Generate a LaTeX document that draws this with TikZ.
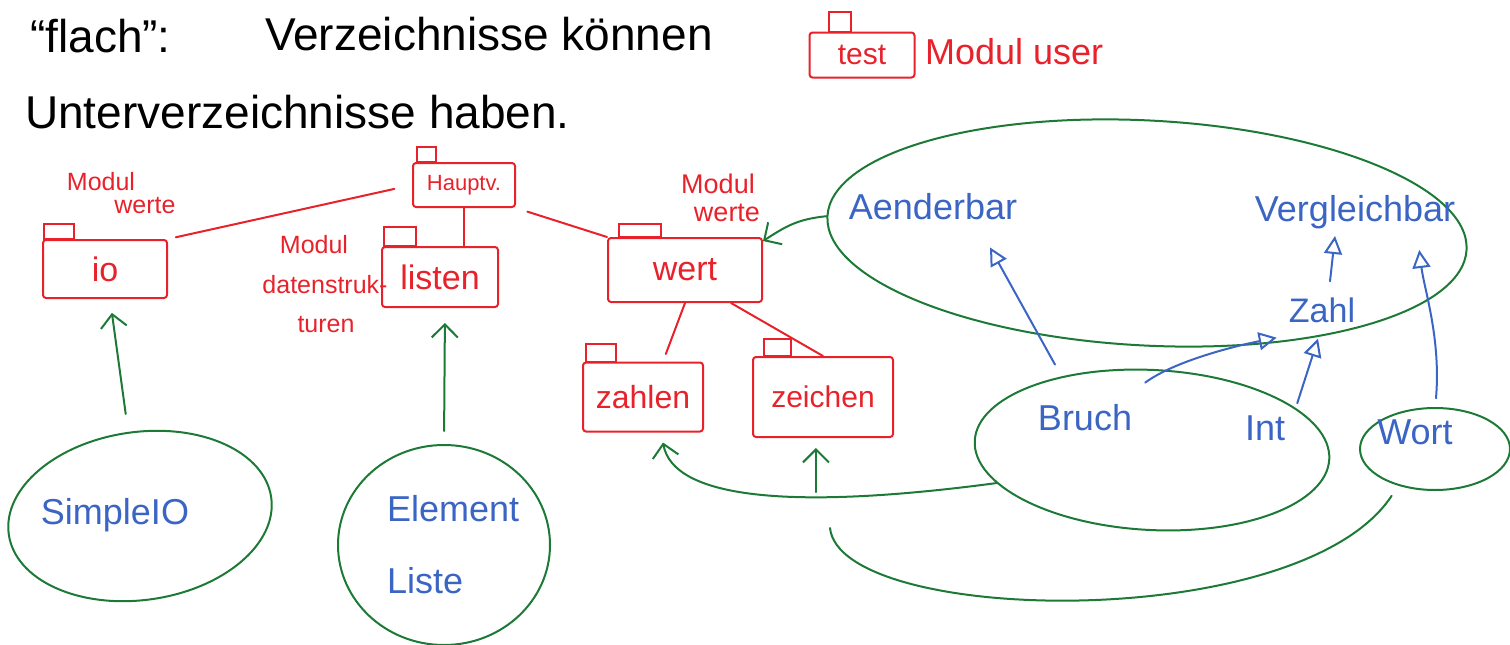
\documentclass[tikz,border=0pt]{standalone}
\usepackage{fontspec}
\setmainfont{Liberation Sans}
\usetikzlibrary{arrows.meta, positioning, shapes.geometric}
\definecolor{pkgred}{HTML}{E8222B}
\definecolor{blobgreen}{HTML}{1C7A36}
\definecolor{clsblue}{HTML}{3A65C4}

\begin{document}
\begin{tikzpicture}[
  x=1pt, y=-1pt,
  pkg/.style={draw=pkgred, line width=2pt, rounded corners=3pt, inner sep=0pt, text=pkgred, font=\fontsize{34}{36}\selectfont},
  tab/.style={draw=pkgred, line width=2pt},
  pline/.style={draw=pkgred, line width=2pt, line cap=round},
  note/.style={text=pkgred, inner sep=0pt, font=\fontsize{25}{27}\selectfont},
  cls/.style={text=clsblue, inner sep=2pt, font=\fontsize{36}{40}\selectfont},
  blob/.style={ellipse, draw=blobgreen, line width=2pt, inner sep=0pt},
  dep/.style={draw=blobgreen, line width=2pt, line cap=round, -{Straight Barb[length=13pt, width=26pt]}},
  gline/.style={draw=blobgreen, line width=2pt, line cap=round},
  inh/.style={draw=clsblue, line width=2pt, line cap=round, -{Triangle[open, length=18pt, width=18pt]}},
  heading/.style={anchor=base west, inner sep=0pt, font=\fontsize{46}{50}\selectfont}
]
\useasboundingbox (0,0) rectangle (1510,645);

% title
\node[heading] (ttlflach) at (30,52) {“flach”:};
\node[heading] (ttlverz) at (265,50) {Verzeichnisse können};
\node[heading] (ttlunter) at (25,128) {Unterverzeichnisse haben.};

% packages
\node[pkg, minimum width=105pt, minimum height=45pt, font=\fontsize{30}{32}\selectfont] (ptest) at (862,55) {test};
\node[note, font=\fontsize{36}{38}\selectfont, anchor=west] (lbluser) at (925,52) {Modul user};
\node[pkg, minimum width=102pt, minimum height=44pt, font=\fontsize{22}{24}\selectfont] (phaupt) at (464,185) {Hauptv.};
\node[pkg, minimum width=124pt, minimum height=58pt] (pio) at (105,269) {io};
\node[pkg, minimum width=116pt, minimum height=60pt] (plisten) at (440,277) {listen};
\node[pkg, minimum width=154pt, minimum height=64pt] (pwert) at (685,270) {wert};
\node[pkg, minimum width=120pt, minimum height=69pt, font=\fontsize{32}{34}\selectfont] (pzahlen) at (643,397) {zahlen};
\node[pkg, minimum width=140pt, minimum height=80pt, font=\fontsize{30}{32}\selectfont] (pzeichen) at (823,397) {zeichen};
\foreach \p/\dx/\w/\h in {ptest/20/22/20, phaupt/5/19/15, pio/2/30/15, plisten/3/32/19, pwert/12/42/13, pzahlen/4/30/18, pzeichen/12/27/17}
  \draw[tab] ([xshift=\dx]\p.north west) rectangle ++(\w,-\h);

\draw[pline, shorten <=8pt, shorten >=18pt] (pio.north east) -- (phaupt.west);
\draw[pline] (phaupt.south) -- (phaupt.south |- plisten.north);
\draw[pline, shorten <=12pt] (phaupt.south east) -- (pwert.north west);
\draw[pline, shorten >=8pt] (pwert.south) -- ([xshift=20pt]pzahlen.north);
\draw[pline] ([xshift=-32pt]pwert.south east) -- (pzeichen.north);

% module notes
\node[note] (lblwerteA) at (101,182) {Modul};
\node[note] (lblwerteB) at (145,206) {werte};
\node[note] (lbldatA) at (314,245) {Modul};
\node[note] (lbldatB) at (325,285) {datenstruk-};
\node[note] (lbldatC) at (326,325) {turen};
\node[note, font=\fontsize{27}{29}\selectfont] (lblwertA) at (718,184) {Modul};
\node[note, font=\fontsize{27}{29}\selectfont] (lblwertB) at (727,213) {werte};

% blobs
\node[blob, minimum width=640pt, minimum height=225pt, rotate=-3] (bbig) at (1147,233) {};
\node[blob, minimum width=355pt, minimum height=160pt, rotate=-3] (bbruch) at (1152,450) {};
\node[blob, minimum width=150pt, minimum height=82pt] (bwort) at (1435,449) {};
\node[blob, minimum width=265pt, minimum height=168pt, rotate=8] (bsimple) at (140,516) {};
\node[blob, minimum width=212pt, minimum height=200pt] (belem) at (444,545) {};

% classes
\node[cls] (aender) at (933,207) {Aenderbar};
\node[cls] (vergl) at (1355,212) {Vergleichbar};
\node[cls, font=\fontsize{34}{36}\selectfont] (zahl) at (1322,310) {Zahl};
\node[cls] (bruch) at (1085,418) {Bruch};
\node[cls] (int) at (1265,428) {Int};
\node[cls] (wort) at (1415,432) {Wort};
\node[cls] (simpleio) at (115,515) {SimpleIO};
\node[cls, align=left, anchor=west] (elemliste) at (385,545) {Element\\[32pt]Liste};

\draw[inh] ([xshift=-30pt, yshift=38pt]bruch.north) -- ([xshift=57pt, yshift=-25pt]aender.south);
\draw[inh] ([xshift=11pt, yshift=20pt]bruch.north east) .. controls +(30,-22) and +(-40,8) .. ([xshift=-10pt, yshift=-13pt]zahl.south west);
\draw[inh] ([xshift=10pt, yshift=10pt]int.north east) -- ([xshift=-4pt, yshift=-14pt]zahl.south);
\draw[inh] ([xshift=8pt, yshift=14pt]zahl.north) -- ([xshift=-20pt, yshift=-5pt]vergl.south);
\draw[inh] ([xshift=21pt, yshift=19pt]wort.north) .. controls +(5,-60) and +(5,40) .. ([xshift=-38pt, yshift=-19pt]vergl.south east);

\draw[dep, shorten <=18pt, shorten >=14pt] (bsimple.north) -- ([xshift=5pt]pio.south);
\draw[dep, shorten <=13pt, shorten >=15pt] (belem.north) -- ([xshift=5pt]plisten.south);
\draw[dep] (bbig.west) .. controls +(-30,3) and +(22,-14) .. ([yshift=-4pt]pwert.north east);
\draw[dep] (bbruch.195) .. controls +(-210,28) and +(10,55) .. ([xshift=20pt, yshift=-10pt]pzahlen.south) coordinate[pos=0.34] (fork);
\draw[dep, shorten <=5pt, shorten >=10pt] (fork) -- (fork |- pzeichen.south);
\coordinate (wortend) at (830,528);
\draw[gline, shorten <=12pt] (bwort.225) .. controls (1300,635) and (840,625) .. (wortend);
\end{tikzpicture}
\end{document}
